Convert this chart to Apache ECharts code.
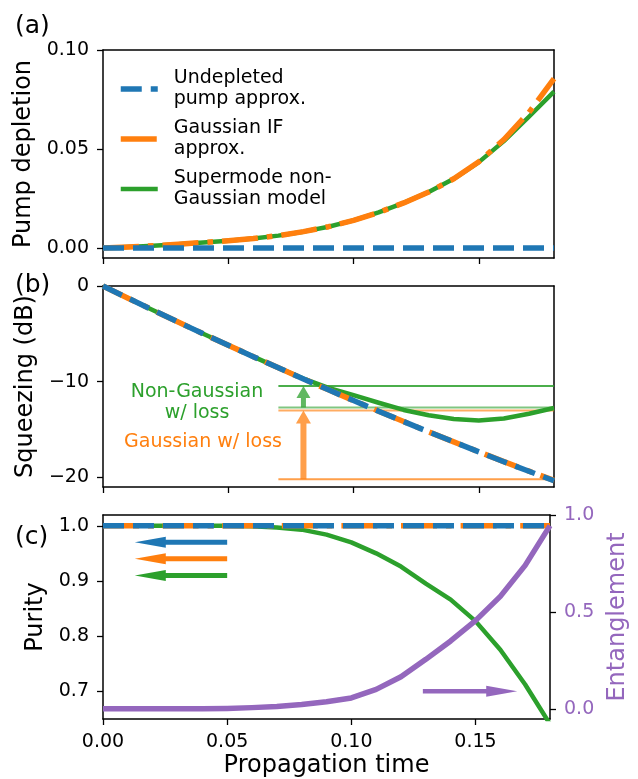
<!DOCTYPE html>
<html>
<head>
<meta charset="utf-8">
<script src="https://cdn.jsdelivr.net/npm/echarts@6/dist/echarts.min.js"></script>
<style>html,body{margin:0;padding:0;background:#fff}#c{width:638px;height:779px}</style>
</head>
<body>
<div id="c"></div>
<script>
// ---------- data ----------
const tValues = [0,0.01,0.02,0.03,0.04,0.05,0.06,0.07,0.08,0.09,0.10,0.11,0.12,0.13,0.14,0.15,0.16,0.17,0.18];

const depletionUndepleted = [0,0,0,0,0,0,0,0,0,0,0,0,0,0,0,0,0,0,0];
const depletionGaussianIF = [0,0.0005,0.0012,0.002,0.0028,0.0037,0.0048,0.0063,0.0083,0.0108,0.0140,0.0180,0.0228,0.0283,0.0350,0.0436,0.0548,0.0685,0.0855];
const depletionSupermode  = [0,0.0005,0.0012,0.002,0.0028,0.0037,0.0048,0.0063,0.0083,0.0108,0.0140,0.0180,0.0228,0.0283,0.0350,0.0434,0.0540,0.0663,0.0790];

const squeezingUndepleted = [0,-1.27,-2.53,-3.77,-4.99,-6.19,-7.38,-8.55,-9.71,-10.85,-11.97,-13.08,-14.16,-15.24,-16.29,-17.33,-18.36,-19.36,-20.35];
const squeezingGaussianIF = [0,-1.27,-2.53,-3.77,-4.99,-6.19,-7.38,-8.55,-9.71,-10.85,-11.97,-13.08,-14.16,-15.24,-16.29,-17.33,-18.35,-19.34,-20.30];
const squeezingSupermode  = [0,-1.27,-2.53,-3.77,-4.99,-6.19,-7.38,-8.55,-9.68,-10.65,-11.40,-12.20,-12.95,-13.50,-13.90,-14.05,-13.85,-13.35,-12.75];

const purityUndepleted = [1,1,1,1,1,1,1,1,1,1,1,1,1,1,1,1,1,1,1];
const purityGaussianIF = [1,1,1,1,1,1,1,1,1,1,1,1,1,1,1,1,1,1,1];
const puritySupermode  = [1,1,1,1,1,1,0.999,0.997,0.993,0.984,0.970,0.950,0.926,0.895,0.866,0.827,0.775,0.712,0.640];
const entanglement     = [0,0,0,0,0,0.002,0.006,0.012,0.022,0.036,0.056,0.100,0.165,0.255,0.350,0.455,0.580,0.740,0.945];

// loss reference levels in panel (b) (dB), drawn over the t range lossRange
const lossRange = [0.07, 0.18];
const lossLevels = [-10.45, -12.7, -13.0, -20.2];

// arrows: [x0, y0, x1, y1]
const arrowNonGaussianLoss = [[0.08, -12.7, 0.08, -10.45]];
const arrowGaussianLoss    = [[0.08, -20.2, 0.08, -13.0]];
const arrowPurityBlue   = [[0.05, 0.97, 0.0128, 0.97]];
const arrowPurityOrange = [[0.05, 0.94, 0.0128, 0.94]];
const arrowPurityGreen  = [[0.05, 0.91, 0.0128, 0.91]];
const arrowEntangle     = [[0.1288, 0.09, 0.1668, 0.09]];

const xTicks = [0, 0.05, 0.10, 0.15];
const yTicksA = [0, 0.05, 0.10];
const yTicksB = [-20, -10, 0];
const yTicksC = [0.7, 0.8, 0.9, 1.0];
const yTicksCR = [0, 0.5, 1.0];

const names = ['Undepleted\npump approx.', 'Gaussian IF\napprox.', 'Supermode non-\nGaussian model'];

// ---------- style ----------
const FONT = 'DejaVu Sans';
const BLUE = '#1f77b4', ORANGE = '#ff7f0e', GREEN = '#2ca02c', PURPLE = '#9467bd';
const blueDash = [21, 9];
const orangeDash = [36, 9, 5.6, 9];

const zip = (a, b) => a.map((v, i) => [v, b[i]]);

const grids = [
  {left: 103, top: 50, width: 451, height: 208},
  {left: 103, top: 286, width: 451, height: 201},
  {left: 103, top: 515, width: 451, height: 208}
];

function bottomX(gi, showLabels, name) {
  return {
    type: 'value', gridIndex: gi, position: 'bottom', min: 0, max: 0.18,
    axisLine: {show: true, onZero: false, lineStyle: {color: '#000', width: 1.5}},
    axisTick: {show: true, length: 6, lineStyle: {color: '#000', width: 1.3}, customValues: xTicks},
    axisLabel: {show: showLabels, customValues: xTicks, fontSize: 19, color: '#000', fontFamily: FONT, margin: 14,
      formatter: v => v.toFixed(2)},
    splitLine: {show: false},
    name: name || '', nameLocation: 'middle', nameGap: 35,
    nameTextStyle: {fontSize: 24, color: '#000', fontFamily: FONT}
  };
}
function topX(gi) {
  return {
    type: 'value', gridIndex: gi, position: 'top', min: 0, max: 0.18,
    axisLine: {show: true, onZero: false, lineStyle: {color: '#000', width: 1.5}},
    axisTick: {show: false}, axisLabel: {show: false}, splitLine: {show: false}
  };
}
function leftY(gi, min, max, ticks, fmt, name) {
  return {
    type: 'value', gridIndex: gi, position: 'left', min: min, max: max,
    axisLine: {show: true, onZero: false, lineStyle: {color: '#000', width: 1.5}},
    axisTick: {show: true, length: 6, lineStyle: {color: '#000', width: 1.3}, customValues: ticks},
    axisLabel: {show: true, customValues: ticks, fontSize: 19, color: '#000', fontFamily: FONT, margin: 14, formatter: fmt},
    splitLine: {show: false},
    name: name, nameLocation: 'middle', nameGap: 52, nameRotate: 90,
    nameTextStyle: {fontSize: 24, color: '#000', fontFamily: FONT}
  };
}
function rightYPlain(gi, min, max) {
  return {
    type: 'value', gridIndex: gi, position: 'right', min: min, max: max,
    axisLine: {show: true, onZero: false, lineStyle: {color: '#000', width: 1.5}},
    axisTick: {show: false}, axisLabel: {show: false}, splitLine: {show: false}
  };
}

function lineSeries(name, xi, yi, xs, ys, color, width, dash, z) {
  return {
    type: 'line', name: name, xAxisIndex: xi, yAxisIndex: yi,
    data: zip(xs, ys), symbol: 'none', showSymbol: false, smooth: false,
    lineStyle: {color: color, width: width, type: dash || 'solid', cap: 'butt', join: 'round'},
    itemStyle: {color: color}, z: z, silent: true, animation: false
  };
}

function arrowSeries(xi, yi, arrows, color, opacity, shaftW, headW, headL, z) {
  return {
    type: 'custom', xAxisIndex: xi, yAxisIndex: yi, data: arrows, z: z, silent: true, animation: false,
    encode: {x: [0, 2], y: [1, 3]},
    renderItem: function (params, api) {
      const p0 = api.coord([api.value(0), api.value(1)]);
      const p1 = api.coord([api.value(2), api.value(3)]);
      const dx = p1[0] - p0[0], dy = p1[1] - p0[1];
      const len = Math.hypot(dx, dy);
      const ux = dx / len, uy = dy / len, nx = -uy, ny = ux;
      const hl = Math.min(headL, len);
      const bx = p1[0] - ux * hl, by = p1[1] - uy * hl;
      const sw = shaftW / 2, hw = headW / 2;
      const pts = [
        [p0[0] + nx * sw, p0[1] + ny * sw],
        [bx + nx * sw, by + ny * sw],
        [bx + nx * hw, by + ny * hw],
        [p1[0], p1[1]],
        [bx - nx * hw, by - ny * hw],
        [bx - nx * sw, by - ny * sw],
        [p0[0] - nx * sw, p0[1] - ny * sw]
      ];
      return {type: 'polygon', shape: {points: pts}, style: {fill: color, opacity: opacity}};
    }
  };
}

function levelSeries(level, color, opacity) {
  return {
    type: 'line', xAxisIndex: 2, yAxisIndex: 2, data: [[lossRange[0], level], [lossRange[1], level]],
    symbol: 'none', lineStyle: {color: color, width: 2, opacity: opacity}, z: 1, silent: true, animation: false
  };
}

const series = [
  // panel (a)
  lineSeries(names[2], 0, 0, tValues, depletionSupermode, GREEN, 4.5, null, 2),
  lineSeries(names[1], 0, 0, tValues, depletionGaussianIF, ORANGE, 5.5, orangeDash, 3),
  lineSeries(names[0], 0, 0, tValues, depletionUndepleted, BLUE, 5.5, blueDash, 4),
  // panel (b)
  levelSeries(lossLevels[0], GREEN, 0.85),
  levelSeries(lossLevels[1], GREEN, 0.6),
  levelSeries(lossLevels[2], ORANGE, 0.65),
  levelSeries(lossLevels[3], ORANGE, 0.75),
  arrowSeries(2, 2, arrowNonGaussianLoss, GREEN, 0.75, 5, 14, 12, 5),
  arrowSeries(2, 2, arrowGaussianLoss, ORANGE, 0.75, 6, 15, 13, 5),
  lineSeries(names[2], 2, 2, tValues, squeezingSupermode, GREEN, 4.5, null, 2),
  lineSeries(names[1], 2, 2, tValues, squeezingGaussianIF, ORANGE, 5.5, orangeDash, 3),
  lineSeries(names[0], 2, 2, tValues, squeezingUndepleted, BLUE, 5.5, blueDash, 4),
  // panel (c)
  lineSeries(names[2], 4, 4, tValues, puritySupermode, GREEN, 4.5, null, 2),
  lineSeries(names[1], 4, 4, tValues, purityGaussianIF, ORANGE, 5.5, orangeDash, 3),
  lineSeries(names[0], 4, 4, tValues, purityUndepleted, BLUE, 5.5, blueDash, 4),
  lineSeries('Entanglement', 4, 5, tValues, entanglement, PURPLE, 5.5, null, 5),
  arrowSeries(4, 4, arrowPurityBlue, BLUE, 1, 5, 11, 31, 5),
  arrowSeries(4, 4, arrowPurityOrange, ORANGE, 1, 5, 11, 31, 5),
  arrowSeries(4, 4, arrowPurityGreen, GREEN, 1, 5, 11, 31, 5),
  arrowSeries(4, 5, arrowEntangle, PURPLE, 1, 4.5, 11, 31, 5)
];

const titleStyle = {fontSize: 25, fontWeight: 'normal', color: '#000', fontFamily: FONT};

const option = {
  animation: false,
  backgroundColor: '#fff',
  textStyle: {fontFamily: FONT},
  title: [
    {text: '(a)', left: 10, top: 9, textStyle: titleStyle},
    {text: '(b)', left: 10, top: 268, textStyle: titleStyle},
    {text: '(c)', left: 10, top: 520, textStyle: titleStyle}
  ],
  legend: {
    orient: 'vertical', left: 113, top: 63, itemWidth: 37, itemHeight: 10, itemGap: 8,
    selectedMode: false, data: names,
    itemStyle: {opacity: 0},
    lineStyle: {width: 'inherit'},
    textStyle: {fontSize: 19, lineHeight: 21, color: '#000', fontFamily: FONT, padding: [0, 0, 0, 11]}
  },
  grid: grids,
  xAxis: [bottomX(0, false), topX(0), bottomX(1, false), topX(1), bottomX(2, true, 'Propagation time'), topX(2)],
  yAxis: [
    leftY(0, -0.005, 0.10, yTicksA, v => v.toFixed(2), 'Pump depletion'),
    rightYPlain(0, -0.005, 0.10),
    leftY(1, -21, 0, yTicksB, v => (v < 0 ? '\u2212' + (-v) : String(v)), 'Squeezing (dB)'),
    rightYPlain(1, -21, 0),
    leftY(2, 0.6494, 1.0196, yTicksC, v => v.toFixed(1), 'Purity'),
    {
      type: 'value', gridIndex: 2, position: 'right', min: -0.0527, max: 1.0,
      axisLine: {show: true, onZero: false, lineStyle: {color: '#000', width: 1.5}},
      axisTick: {show: true, length: 6, lineStyle: {color: '#000', width: 1.3}, customValues: yTicksCR},
      axisLabel: {show: true, customValues: yTicksCR, fontSize: 19, color: PURPLE, fontFamily: FONT, margin: 14,
        formatter: v => v.toFixed(1)},
      splitLine: {show: false},
      name: 'Entanglement', nameLocation: 'middle', nameGap: 56, nameRotate: 90,
      nameTextStyle: {fontSize: 24, color: PURPLE, fontFamily: FONT}
    }
  ],
  graphic: [
    {type: 'text', x: 197, y: 402.5, silent: true,
      style: {text: 'Non-Gaussian\nw/ loss', fill: GREEN, font: '19px "DejaVu Sans"', lineHeight: 21.6,
        align: 'center', verticalAlign: 'middle', textAlign: 'center', textVerticalAlign: 'middle'}},
    {type: 'text', x: 203, y: 442, silent: true,
      style: {text: 'Gaussian w/ loss', fill: ORANGE, font: '19px "DejaVu Sans"',
        align: 'center', verticalAlign: 'middle', textAlign: 'center', textVerticalAlign: 'middle'}}
  ],
  series: series
};

const chart = echarts.init(document.getElementById('c'), null, {renderer: 'canvas'});
chart.setOption(option);
</script>
</body>
</html>
